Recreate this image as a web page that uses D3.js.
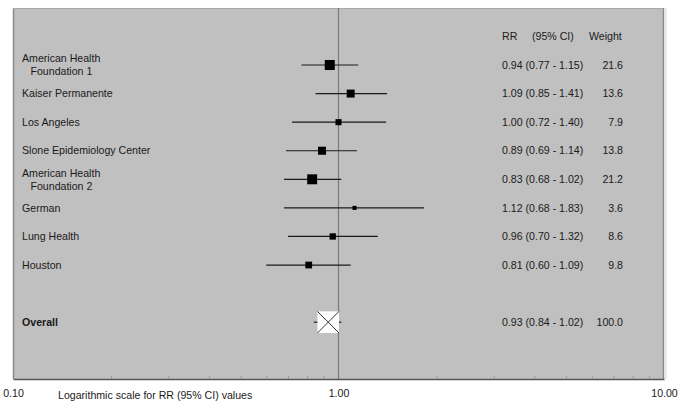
<!DOCTYPE html>
<html>
<head>
<meta charset="utf-8">
<script src="https://cdn.jsdelivr.net/npm/d3@7/dist/d3.min.js"></script>
<style>
  html, body { margin: 0; padding: 0; background: #ffffff; }
  svg { display: block; font-family: "Liberation Sans", Arial, sans-serif; }
</style>
</head>
<body>
<svg id="chart" width="685" height="412"></svg>
<script>
// ---- data ----
const studies = ["American Health|Foundation 1", "Kaiser Permanente", "Los Angeles",
  "Slone Epidemiology Center", "American Health|Foundation 2", "German", "Lung Health", "Houston"];
const rr     = [0.94, 1.09, 1.00, 0.89, 0.83, 1.12, 0.96, 0.81];
const ciLow  = [0.77, 0.85, 0.72, 0.69, 0.68, 0.68, 0.70, 0.60];
const ciHigh = [1.15, 1.41, 1.40, 1.14, 1.02, 1.83, 1.32, 1.09];
const weights = [21.6, 13.6, 7.9, 13.8, 21.2, 3.6, 8.6, 9.8];
const overallLabel = "Overall";
const overallRR = 0.93, overallLow = 0.84, overallHigh = 1.02, overallWeight = 100.0;
const majorTicks = [0.1, 1, 10];
const minorTicks = [0.2,0.3,0.4,0.5,0.6,0.7,0.8,0.9,2,3,4,5,6,7,8,9];
const headers = ["RR", "(95% CI)", "Weight"];
const axisTitle = "Logarithmic scale for RR (95% CI) values";

// ---- layout ----
const svg = d3.select("#chart");
const box = {left: 13, right: 664, top: 8, bottom: 379};
const x = d3.scaleLog().domain([0.1, 10]).range([box.left, box.right]);
const y = d3.scaleLinear().domain([0, 9]).range([65, 322.2]);
const size = d3.scaleSqrt().domain([0, 100]).range([0, 21.6]);
const fmt = d3.format(".2f");
const textColor = "#1a1a1a";
const fs = "10.6px";

// background panel
svg.append("rect")
  .attr("x", box.left).attr("y", box.top)
  .attr("width", box.right - box.left).attr("height", box.bottom - box.top)
  .attr("fill", "#c0c0c0");
svg.append("line").attr("x1", box.left + 0.5).attr("x2", box.left + 0.5)
  .attr("y1", box.top).attr("y2", box.bottom).attr("stroke", "#8a8a8a").attr("stroke-width", 1.5);
svg.append("line").attr("x1", box.left).attr("x2", box.right)
  .attr("y1", box.top + 0.5).attr("y2", box.top + 0.5).attr("stroke", "#a8a8a8").attr("stroke-width", 1);
svg.append("line").attr("x1", box.right - 0.5).attr("x2", box.right - 0.5)
  .attr("y1", box.top).attr("y2", box.bottom).attr("stroke", "#8a8a8a").attr("stroke-width", 1.5);
svg.append("line").attr("x1", box.right + 2).attr("x2", box.right + 2)
  .attr("y1", box.top).attr("y2", box.bottom).attr("stroke", "#d8d8d8").attr("stroke-width", 1);

// reference line at RR = 1
svg.append("line")
  .attr("x1", x(1)).attr("x2", x(1))
  .attr("y1", box.top).attr("y2", box.bottom)
  .attr("stroke", "#7a7a7a").attr("stroke-width", 1.2);

// axis: minor ticks pointing up
const minorAxis = d3.axisBottom(x).tickValues(minorTicks).tickSizeInner(-3).tickSizeOuter(0).tickFormat("");
const gMinor = svg.append("g").attr("transform", `translate(0,${box.bottom})`).call(minorAxis);
gMinor.selectAll(".tick line").attr("stroke", "#9a9a9a");
gMinor.select(".domain").attr("stroke", "#555").attr("stroke-width", 1.5);

const majorAxis = d3.axisBottom(x).tickValues(majorTicks).tickSize(0).tickPadding(10).tickFormat(fmt);
const gMajor = svg.append("g").attr("transform", `translate(0,${box.bottom})`).call(majorAxis);
gMajor.select(".domain").remove();
gMajor.selectAll(".tick text")
  .attr("font-size", fs).attr("fill", textColor)
  .attr("font-family", "'Liberation Sans', Arial, sans-serif");

svg.append("text")
  .attr("x", 58).attr("y", 399)
  .attr("font-size", fs).attr("fill", textColor)
  .text(axisTitle);

// header
const headerX = [502, 532, 589];
svg.selectAll("text.hdr").data(headers).enter().append("text")
  .attr("class", "hdr")
  .attr("x", (d, i) => headerX[i]).attr("y", y(-1))
  .attr("dy", "0.35em")
  .attr("font-size", fs).attr("fill", textColor)
  .text(d => d);

// study labels
const rows = studies.map((s, i) => ({name: s, rr: rr[i], lo: ciLow[i], hi: ciHigh[i], w: weights[i], i}));
const lbl = svg.selectAll("text.lbl").data(rows).enter().append("text")
  .attr("class", "lbl")
  .attr("font-size", fs).attr("fill", textColor);
lbl.each(function(d) {
  const t = d3.select(this);
  const parts = d.name.split("|");
  if (parts.length === 1) {
    t.append("tspan").attr("x", 22).attr("y", y(d.i)).attr("dy", "0.35em").text(parts[0]);
  } else {
    t.append("tspan").attr("x", 22).attr("y", y(d.i) - 6.5).attr("dy", "0.35em").text(parts[0]);
    t.append("tspan").attr("x", 30.5).attr("y", y(d.i) + 6.5).attr("dy", "0.35em").text(parts[1]);
  }
});

// CI lines
svg.selectAll("line.ci").data(rows).enter().append("line")
  .attr("class", "ci")
  .attr("x1", d => x(d.lo)).attr("x2", d => x(d.hi))
  .attr("y1", d => y(d.i)).attr("y2", d => y(d.i))
  .attr("stroke", "#1a1a1a").attr("stroke-width", 1.2);

// squares
svg.selectAll("rect.sq").data(rows).enter().append("rect")
  .attr("class", "sq")
  .attr("x", d => x(d.rr) - size(d.w) / 2)
  .attr("y", d => y(d.i) - size(d.w) / 2)
  .attr("width", d => size(d.w)).attr("height", d => size(d.w))
  .attr("fill", "#000");

// numeric columns
svg.selectAll("text.val").data(rows).enter().append("text")
  .attr("class", "val")
  .attr("x", 502).attr("y", d => y(d.i)).attr("dy", "0.35em")
  .attr("font-size", fs).attr("fill", textColor)
  .text(d => `${fmt(d.rr)} (${fmt(d.lo)} - ${fmt(d.hi)})`);
svg.selectAll("text.wt").data(rows).enter().append("text")
  .attr("class", "wt")
  .attr("x", 623).attr("y", d => y(d.i)).attr("dy", "0.35em")
  .attr("text-anchor", "end")
  .attr("font-size", fs).attr("fill", textColor)
  .text(d => d.w.toFixed(1));

// overall row
const yo = y(9);
svg.append("text")
  .attr("x", 22).attr("y", yo).attr("dy", "0.35em")
  .attr("font-size", fs).attr("font-weight", "bold").attr("fill", textColor)
  .text(overallLabel);
svg.append("line")
  .attr("x1", x(overallLow)).attr("x2", x(overallHigh))
  .attr("y1", yo).attr("y2", yo)
  .attr("stroke", "#1a1a1a").attr("stroke-width", 1.2);
const so = size(overallWeight);
const ox = x(overallRR);
svg.append("rect")
  .attr("x", ox - so / 2).attr("y", yo - so / 2)
  .attr("width", so).attr("height", so)
  .attr("fill", "#ffffff");
svg.append("line")
  .attr("x1", ox - so / 2).attr("y1", yo - so / 2)
  .attr("x2", ox + so / 2).attr("y2", yo + so / 2)
  .attr("stroke", "#333").attr("stroke-width", 1);
svg.append("line")
  .attr("x1", ox - so / 2).attr("y1", yo + so / 2)
  .attr("x2", ox + so / 2).attr("y2", yo - so / 2)
  .attr("stroke", "#333").attr("stroke-width", 1);
svg.append("text")
  .attr("x", 502).attr("y", yo).attr("dy", "0.35em")
  .attr("font-size", fs).attr("fill", textColor)
  .text(`${fmt(overallRR)} (${fmt(overallLow)} - ${fmt(overallHigh)})`);
svg.append("text")
  .attr("x", 623).attr("y", yo).attr("dy", "0.35em")
  .attr("text-anchor", "end")
  .attr("font-size", fs).attr("fill", textColor)
  .text(overallWeight.toFixed(1));
</script>
</body>
</html>
